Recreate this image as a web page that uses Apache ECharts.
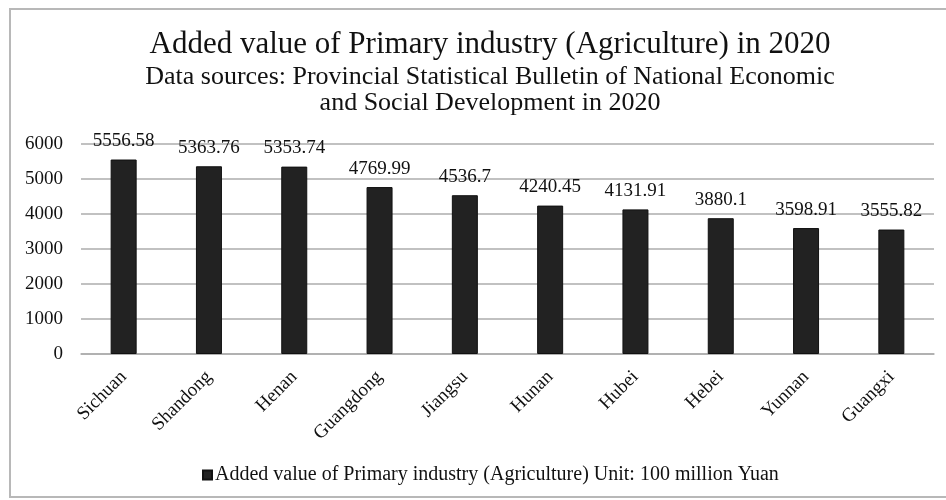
<!DOCTYPE html>
<html>
<head>
<meta charset="utf-8">
<script src="https://cdn.jsdelivr.net/npm/echarts@6/dist/echarts.min.js"></script>
<style>
  html, body { margin: 0; padding: 0; background: #fff; }
  #chart { width: 946px; height: 500px; }
</style>
</head>
<body>
<div id="chart"></div>
<script>
// Provinces ranked by 2020 primary-industry added value (100 million Yuan)
const provinces = ['Sichuan', 'Shandong', 'Henan', 'Guangdong', 'Jiangsu', 'Hunan', 'Hubei', 'Hebei', 'Yunnan', 'Guangxi'];
const addedValue = [5556.58, 5363.76, 5353.74, 4769.99, 4536.7, 4240.45, 4131.91, 3880.1, 3598.91, 3555.82];
const yTicks = [0, 1000, 2000, 3000, 4000, 5000, 6000];

const titleText = 'Added value of Primary industry (Agriculture) in 2020';
const subtitleText = 'Data sources: Provincial Statistical Bulletin of National Economic\nand Social Development in 2020';
const seriesName = 'Added value of Primary industry (Agriculture) Unit: 100 million Yuan';

const serif = '"Liberation Serif", "DejaVu Serif", serif';

const chart = echarts.init(document.getElementById('chart'), null, { renderer: 'canvas' });

chart.setOption({
  backgroundColor: '#ffffff',
  animation: false,
  graphic: [{
    type: 'rect',
    shape: { x: 10, y: 9, width: 960, height: 488 },
    style: { fill: 'none', stroke: '#b8b8b8', lineWidth: 2 },
    silent: true
  }],
  title: {
    text: titleText,
    subtext: subtitleText,
    left: 485,
    top: 24,
    textAlign: 'center',
    itemGap: 4,
    textStyle: { fontFamily: serif, fontSize: 31, fontWeight: 'normal', color: '#111' },
    subtextStyle: { fontFamily: serif, fontSize: 26, color: '#111', lineHeight: 26, align: 'center' }
  },
  legend: {
    data: [seriesName],
    bottom: 10,
    left: 197,
    itemWidth: 9,
    itemHeight: 9,
    itemGap: 2,
    icon: 'rect',
    textStyle: { fontFamily: serif, fontSize: 20, color: '#111', padding: [0, 0, 0, -2] }
  },
  grid: { left: 81, right: 12, top: 144, bottom: 146, containLabel: false },
  xAxis: {
    type: 'category',
    data: provinces,
    axisLine: { lineStyle: { color: '#acacac', width: 1.5 } },
    axisTick: { show: false },
    axisLabel: {
      rotate: 45,
      margin: 20,
      interval: 0,
      fontFamily: serif,
      fontSize: 19,
      color: '#111'
    }
  },
  yAxis: {
    type: 'value',
    min: yTicks[0],
    max: yTicks[yTicks.length - 1],
    interval: 1000,
    axisLine: { show: false },
    axisTick: { show: false },
    splitLine: { lineStyle: { color: '#acacac', width: 1.5 } },
    axisLabel: {
      margin: 18,
      fontFamily: serif,
      fontSize: 19,
      color: '#111',
      formatter: (v) => String(v)
    }
  },
  series: [{
    name: seriesName,
    type: 'bar',
    data: addedValue,
    barWidth: 26,
    itemStyle: { color: '#222222', borderColor: '#111111', borderWidth: 1 },
    label: {
      show: true,
      position: 'top',
      distance: 9,
      fontFamily: serif,
      fontSize: 19,
      color: '#111'
    }
  }]
});
</script>
</body>
</html>
